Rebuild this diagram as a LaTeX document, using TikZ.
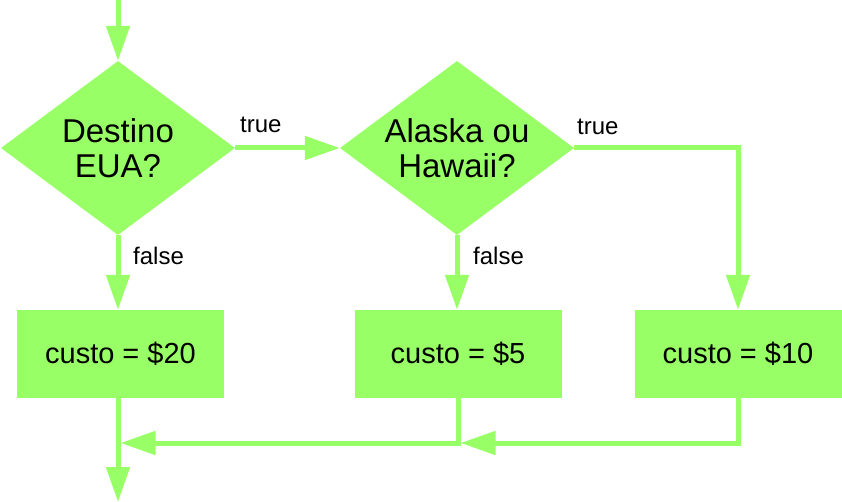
\documentclass[tikz,border=0pt]{standalone}
\usepackage{fontspec}
\setmainfont{Liberation Sans}
\usetikzlibrary{shapes.geometric,arrows.meta}
\definecolor{fc}{RGB}{153,255,102}
\begin{document}
\begin{tikzpicture}[x=1pt,y=-1pt,
  dia/.style={diamond,fill=fc,draw=none,inner sep=0pt,minimum width=234pt,minimum height=174pt},
  diatext/.style={font=\fontsize{33}{35}\selectfont,align=center,inner sep=0pt},
  box/.style={rectangle,fill=fc,draw=none,minimum width=207pt,minimum height=88pt,inner sep=0pt,font=\fontsize{29}{33}\selectfont},
  lbl/.style={font=\fontsize{24}{28}\selectfont,anchor=base west,inner sep=0pt},
  arr/.style={draw=fc,line width=5pt,-{Triangle[length=35pt,width=23pt]}},
  ln/.style={draw=fc,line width=5pt}]
\useasboundingbox (0,0) rectangle (842,502);
% nodes
\node[dia] (d1) at (118,148) {};
\node[diatext] (d1t) at (118,148) {Destino\\EUA?};
\node[dia] (d2) at (457,148) {};
\node[diatext] (d2t) at (457,148) {Alaska ou\\Hawaii?};
\node[box] (b1) at (120.5,354) {custo = \$20};
\node[box] (b2) at (458,354) {custo = \$5};
\node[box] (b3) at (738,354) {custo = \$10};
% labels
\node[lbl] (t1) at (240,133) {true};
\node[lbl] (t2) at (577,135) {true};
\node[lbl] (f1) at (133,265) {false};
\node[lbl] (f2) at (473,265) {false};
% coordinates
\coordinate (top) at (118,0);
\coordinate (j1) at (120.5,443);
\coordinate (j2) at (460.5,443);
\coordinate (out) at (118,502);
% connectors
\draw[arr] (top) -- (d1.north);
\draw[arr] (d1.east) -- (d2.west);
\draw[arr] (d1.south) -- (d1.south |- b1.north);
\draw[arr] (d2.south) -- (d2.south |- b2.north);
\draw[arr] (d2.east) -| (b3.north);
\draw[arr] (b2.south) |- (j1);
\draw[arr] (b3.south) |- (j2);
\draw[arr] (d1.south |- b1.south) -- (out);
\end{tikzpicture}
\end{document}
